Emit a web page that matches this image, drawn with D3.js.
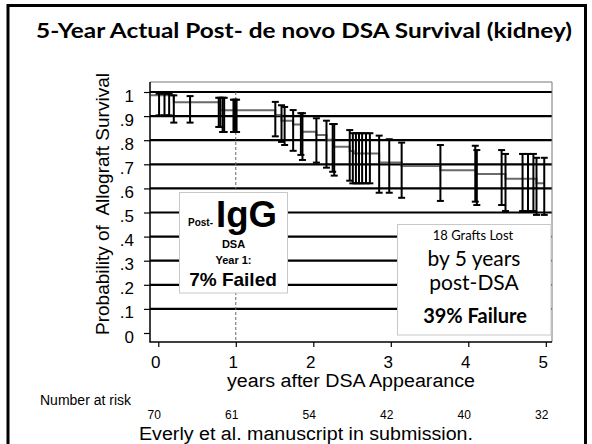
<!DOCTYPE html>
<html>
<head>
<meta charset="utf-8">
<script src="https://cdn.jsdelivr.net/npm/d3@7"></script>
<style>
  body { margin: 0; background: #fff; }
  svg { display: block; }
  .arial { font-family: "Liberation Sans", Arial, sans-serif; }
  .calibri { font-family: Lato, "Open Sans", sans-serif; }
</style>
</head>
<body>
<svg id="viz" width="592" height="444"></svg>
<script>
// DATA
var yTickVals = [0, 0.1, 0.2, 0.3, 0.4, 0.5, 0.6, 0.7, 0.8, 0.9, 1];
var yTickLabels = ["0", ".1", ".2", ".3", ".4", ".5", ".6", ".7", ".8", ".9", "1"];
var gridVals = [0.1, 0.2, 0.3, 0.4, 0.5, 0.6, 0.7, 0.8, 0.9, 1];
var xTickVals = [0, 1, 2, 3, 4, 5];
var riskTimes = [0, 1, 2, 3, 4, 5];
var atRisk = [70, 61, 54, 42, 40, 32];

// Kaplan-Meier step curve (time in years, survival)
var stepTimes = [-0.1, 0.20, 0.80, 1.51, 1.59, 1.74, 1.85, 2.04, 2.17, 2.26, 2.47, 2.52, 2.85, 3.14, 3.64, 4.10, 4.48, 4.88];
var stepSurv  = [0.986, 0.957, 0.924, 0.905, 0.881, 0.865, 0.835, 0.822, 0.802, 0.773, 0.755, 0.745, 0.707, 0.693, 0.675, 0.660, 0.640, 0.621];
var stepEnd = 4.98;

// confidence-interval bars
var barTimes = [0.01, 0.08, 0.14, 0.20, 0.41, 0.78, 0.80, 0.83, 0.85, 0.97, 0.99, 1.01,
                1.51, 1.59, 1.63, 1.74, 1.84, 1.86, 2.04, 2.17, 2.25, 2.27, 2.47,
                2.51, 2.55, 2.59, 2.63, 2.68, 2.73, 2.85, 2.98, 3.14, 3.64, 4.09, 4.11,
                4.43, 4.48, 4.70, 4.77, 4.84, 4.88, 4.98];
var barLower = [0.903, 0.903, 0.903, 0.873, 0.873, 0.855, 0.855, 0.834, 0.834, 0.834, 0.834, 0.834,
                0.816, 0.793, 0.780, 0.756, 0.739, 0.718, 0.707, 0.686, 0.669, 0.653, 0.632,
                0.621, 0.621, 0.621, 0.621, 0.621, 0.621, 0.582, 0.582, 0.561, 0.548, 0.545, 0.531,
                0.531, 0.506, 0.506, 0.506, 0.506, 0.490, 0.490];
var barUpper = [0.993, 0.993, 0.993, 0.986, 0.983, 0.976, 0.976, 0.976, 0.976, 0.968, 0.968, 0.968,
                0.959, 0.945, 0.938, 0.925, 0.912, 0.912, 0.891, 0.881, 0.867, 0.867, 0.842,
                0.829, 0.829, 0.829, 0.829, 0.829, 0.829, 0.819, 0.804, 0.790, 0.780, 0.777, 0.759,
                0.759, 0.743, 0.743, 0.743, 0.743, 0.727, 0.727];

(function () {
    'use strict';
    var svg = d3.select("#viz");
    var plot = { left: 150, right: 552, top: 82, bottom: 342 };

    var xScale = d3.scaleLinear().domain([-0.107, 5.08]).range([plot.left, plot.right]);
    var yScale = d3.scaleLinear().domain([0, 1]).range([333, 92]);

    // outer slide border
    svg.append("rect")
        .attr("x", 8).attr("y", 5.5)
        .attr("width", 577.5).attr("height", 470)
        .attr("fill", "none").attr("stroke", "#000").attr("stroke-width", 3);

    // title
    svg.append("text")
        .attr("class", "calibri")
        .attr("x", 304).attr("y", 38)
        .attr("text-anchor", "middle")
        .attr("font-size", 21).attr("font-weight", "bold")
        .attr("textLength", 536).attr("lengthAdjust", "spacingAndGlyphs")
        .text("5-Year Actual Post- de novo DSA Survival (kidney)");

    // GRID
    svg.append("g").selectAll("line")
        .data(gridVals)
        .enter().append("line")
        .attr("x1", plot.left).attr("x2", plot.right)
        .attr("y1", function (d) { return yScale(d); })
        .attr("y2", function (d) { return yScale(d); })
        .attr("stroke", "#000").attr("stroke-width", 2.2);

    // year 1 dashed marker
    svg.append("line")
        .attr("x1", xScale(1)).attr("x2", xScale(1))
        .attr("y1", yScale(1)).attr("y2", plot.bottom)
        .attr("stroke", "#666").attr("stroke-width", 1)
        .attr("stroke-dasharray", "3,2");

    // KM curve
    var pts = stepTimes.map(function (t, i) { return [t, stepSurv[i]]; });
    pts.push([stepEnd, stepSurv[stepSurv.length - 1]]);
    var line = d3.line()
        .x(function (d) { return xScale(d[0]); })
        .y(function (d) { return yScale(d[1]); })
        .curve(d3.curveStepAfter);
    svg.append("path")
        .datum(pts)
        .attr("d", line)
        .attr("fill", "none").attr("stroke", "#6a6a6a").attr("stroke-width", 2);

    // ERROR BARS
    var bars = barTimes.map(function (t, i) { return { t: t, lo: barLower[i], hi: barUpper[i] }; });
    var eb = svg.append("g").selectAll("g")
        .data(bars)
        .enter().append("g")
        .attr("stroke", "#000").attr("stroke-width", 2);
    eb.append("line")
        .attr("x1", function (d) { return xScale(d.t); })
        .attr("x2", function (d) { return xScale(d.t); })
        .attr("y1", function (d) { return yScale(d.hi); })
        .attr("y2", function (d) { return yScale(d.lo); });
    eb.append("line")
        .attr("x1", function (d) { return xScale(d.t) - 3.5; })
        .attr("x2", function (d) { return xScale(d.t) + 3.5; })
        .attr("y1", function (d) { return yScale(d.hi); })
        .attr("y2", function (d) { return yScale(d.hi); });
    eb.append("line")
        .attr("x1", function (d) { return xScale(d.t) - 3.5; })
        .attr("x2", function (d) { return xScale(d.t) + 3.5; })
        .attr("y1", function (d) { return yScale(d.lo); })
        .attr("y2", function (d) { return yScale(d.lo); });

    // plot frame
    svg.append("path")
        .attr("d", "M" + plot.left + "," + plot.top + "H" + plot.right + "V" + plot.bottom)
        .attr("fill", "none").attr("stroke", "#777").attr("stroke-width", 1);
    svg.append("path")
        .attr("d", "M" + plot.left + "," + plot.top + "V" + plot.bottom + "H" + plot.right)
        .attr("fill", "none").attr("stroke", "#000").attr("stroke-width", 1.5);

    // AXES
    var yAxis = d3.axisLeft(yScale)
        .tickValues(yTickVals)
        .tickSize(6)
        .tickFormat(function (d, i) { return yTickLabels[i]; });
    var yg = svg.append("g")
        .attr("class", "y axis arial")
        .attr("transform", "translate(" + plot.left + ",0)")
        .call(yAxis);
    yg.select(".domain").remove();
    yg.selectAll("line").attr("stroke", "#000").attr("stroke-width", 1.2);
    yg.selectAll("text")
        .attr("x", -16).attr("dy", "0.53em")
        .attr("font-size", 17).attr("font-family", null).attr("fill", "#000");

    var xAxis = d3.axisBottom(xScale)
        .tickValues(xTickVals)
        .tickSize(5)
        .tickFormat(d3.format("d"));
    var xg = svg.append("g")
        .attr("class", "x axis arial")
        .attr("transform", "translate(0," + plot.bottom + ")")
        .call(xAxis);
    xg.select(".domain").remove();
    xg.selectAll("line").attr("stroke", "#000").attr("stroke-width", 1.2);
    xg.selectAll("text")
        .attr("x", -3).attr("y", 26).attr("dy", 0)
        .attr("font-size", 17).attr("font-family", null).attr("fill", "#000");

    // axis titles
    svg.append("text")
        .attr("class", "arial")
        .attr("transform", "translate(109,204) rotate(-90)")
        .attr("text-anchor", "middle")
        .attr("font-size", 19)
        .style("white-space", "pre")
        .text("Probability of  Allograft Survival");
    svg.append("text")
        .attr("class", "arial")
        .attr("x", 351).attr("y", 387)
        .attr("text-anchor", "middle")
        .attr("font-size", 18)
        .attr("textLength", 248).attr("lengthAdjust", "spacingAndGlyphs")
        .text("years after DSA Appearance");

    // LEFT BOX
    svg.append("rect")
        .attr("x", 179.5).attr("y", 192.5).attr("width", 108).attr("height", 100.5)
        .attr("fill", "#fff").attr("stroke", "#c8c8c8").attr("stroke-width", 1);
    var lb = svg.append("g").attr("class", "arial").attr("font-weight", "bold");
    lb.append("text").attr("x", 188).attr("y", 226).attr("font-size", 10).text("Post-");
    lb.append("text").attr("x", 216).attr("y", 227).attr("font-size", 36)
        .attr("textLength", 61).attr("lengthAdjust", "spacingAndGlyphs").text("IgG");
    lb.append("text").attr("x", 233.5).attr("y", 248).attr("text-anchor", "middle")
        .attr("font-size", 11).text("DSA");
    lb.append("text").attr("x", 233.5).attr("y", 264).attr("text-anchor", "middle")
        .attr("font-size", 11).text("Year 1:");
    lb.append("text").attr("x", 233).attr("y", 286).attr("text-anchor", "middle")
        .attr("font-size", 19).text("7% Failed");

    // RIGHT BOX
    svg.append("rect")
        .attr("x", 397.5).attr("y", 224.5).attr("width", 153.5).attr("height", 110.5)
        .attr("fill", "#fff").attr("stroke", "#c8c8c8").attr("stroke-width", 1);
    var rb = svg.append("g").attr("class", "calibri").attr("text-anchor", "middle");
    rb.append("text").attr("x", 473).attr("y", 240).attr("font-size", 13).text("18 Grafts Lost");
    rb.append("text").attr("x", 474).attr("y", 266).attr("font-size", 21).text("by 5 years");
    rb.append("text").attr("x", 474).attr("y", 290).attr("font-size", 21).text("post-DSA");
    rb.append("text").attr("x", 475).attr("y", 323).attr("font-size", 20)
        .attr("font-weight", "bold").text("39% Failure");

    // number at risk
    svg.append("text")
        .attr("class", "arial")
        .attr("x", 40).attr("y", 405)
        .attr("font-size", 14)
        .text("Number at risk");
    svg.append("g").attr("class", "arial").selectAll("text")
        .data(atRisk)
        .enter().append("text")
        .attr("x", function (d, i) { return xScale(riskTimes[i]) - 4; })
        .attr("y", 419)
        .attr("text-anchor", "middle")
        .attr("font-size", 12)
        .text(function (d) { return d; });

    // citation
    svg.append("text")
        .attr("class", "arial")
        .attr("x", 306).attr("y", 440)
        .attr("text-anchor", "middle")
        .attr("font-size", 18)
        .attr("textLength", 334).attr("lengthAdjust", "spacingAndGlyphs")
        .text("Everly et al. manuscript in submission.");
}());
</script>
</body>
</html>
